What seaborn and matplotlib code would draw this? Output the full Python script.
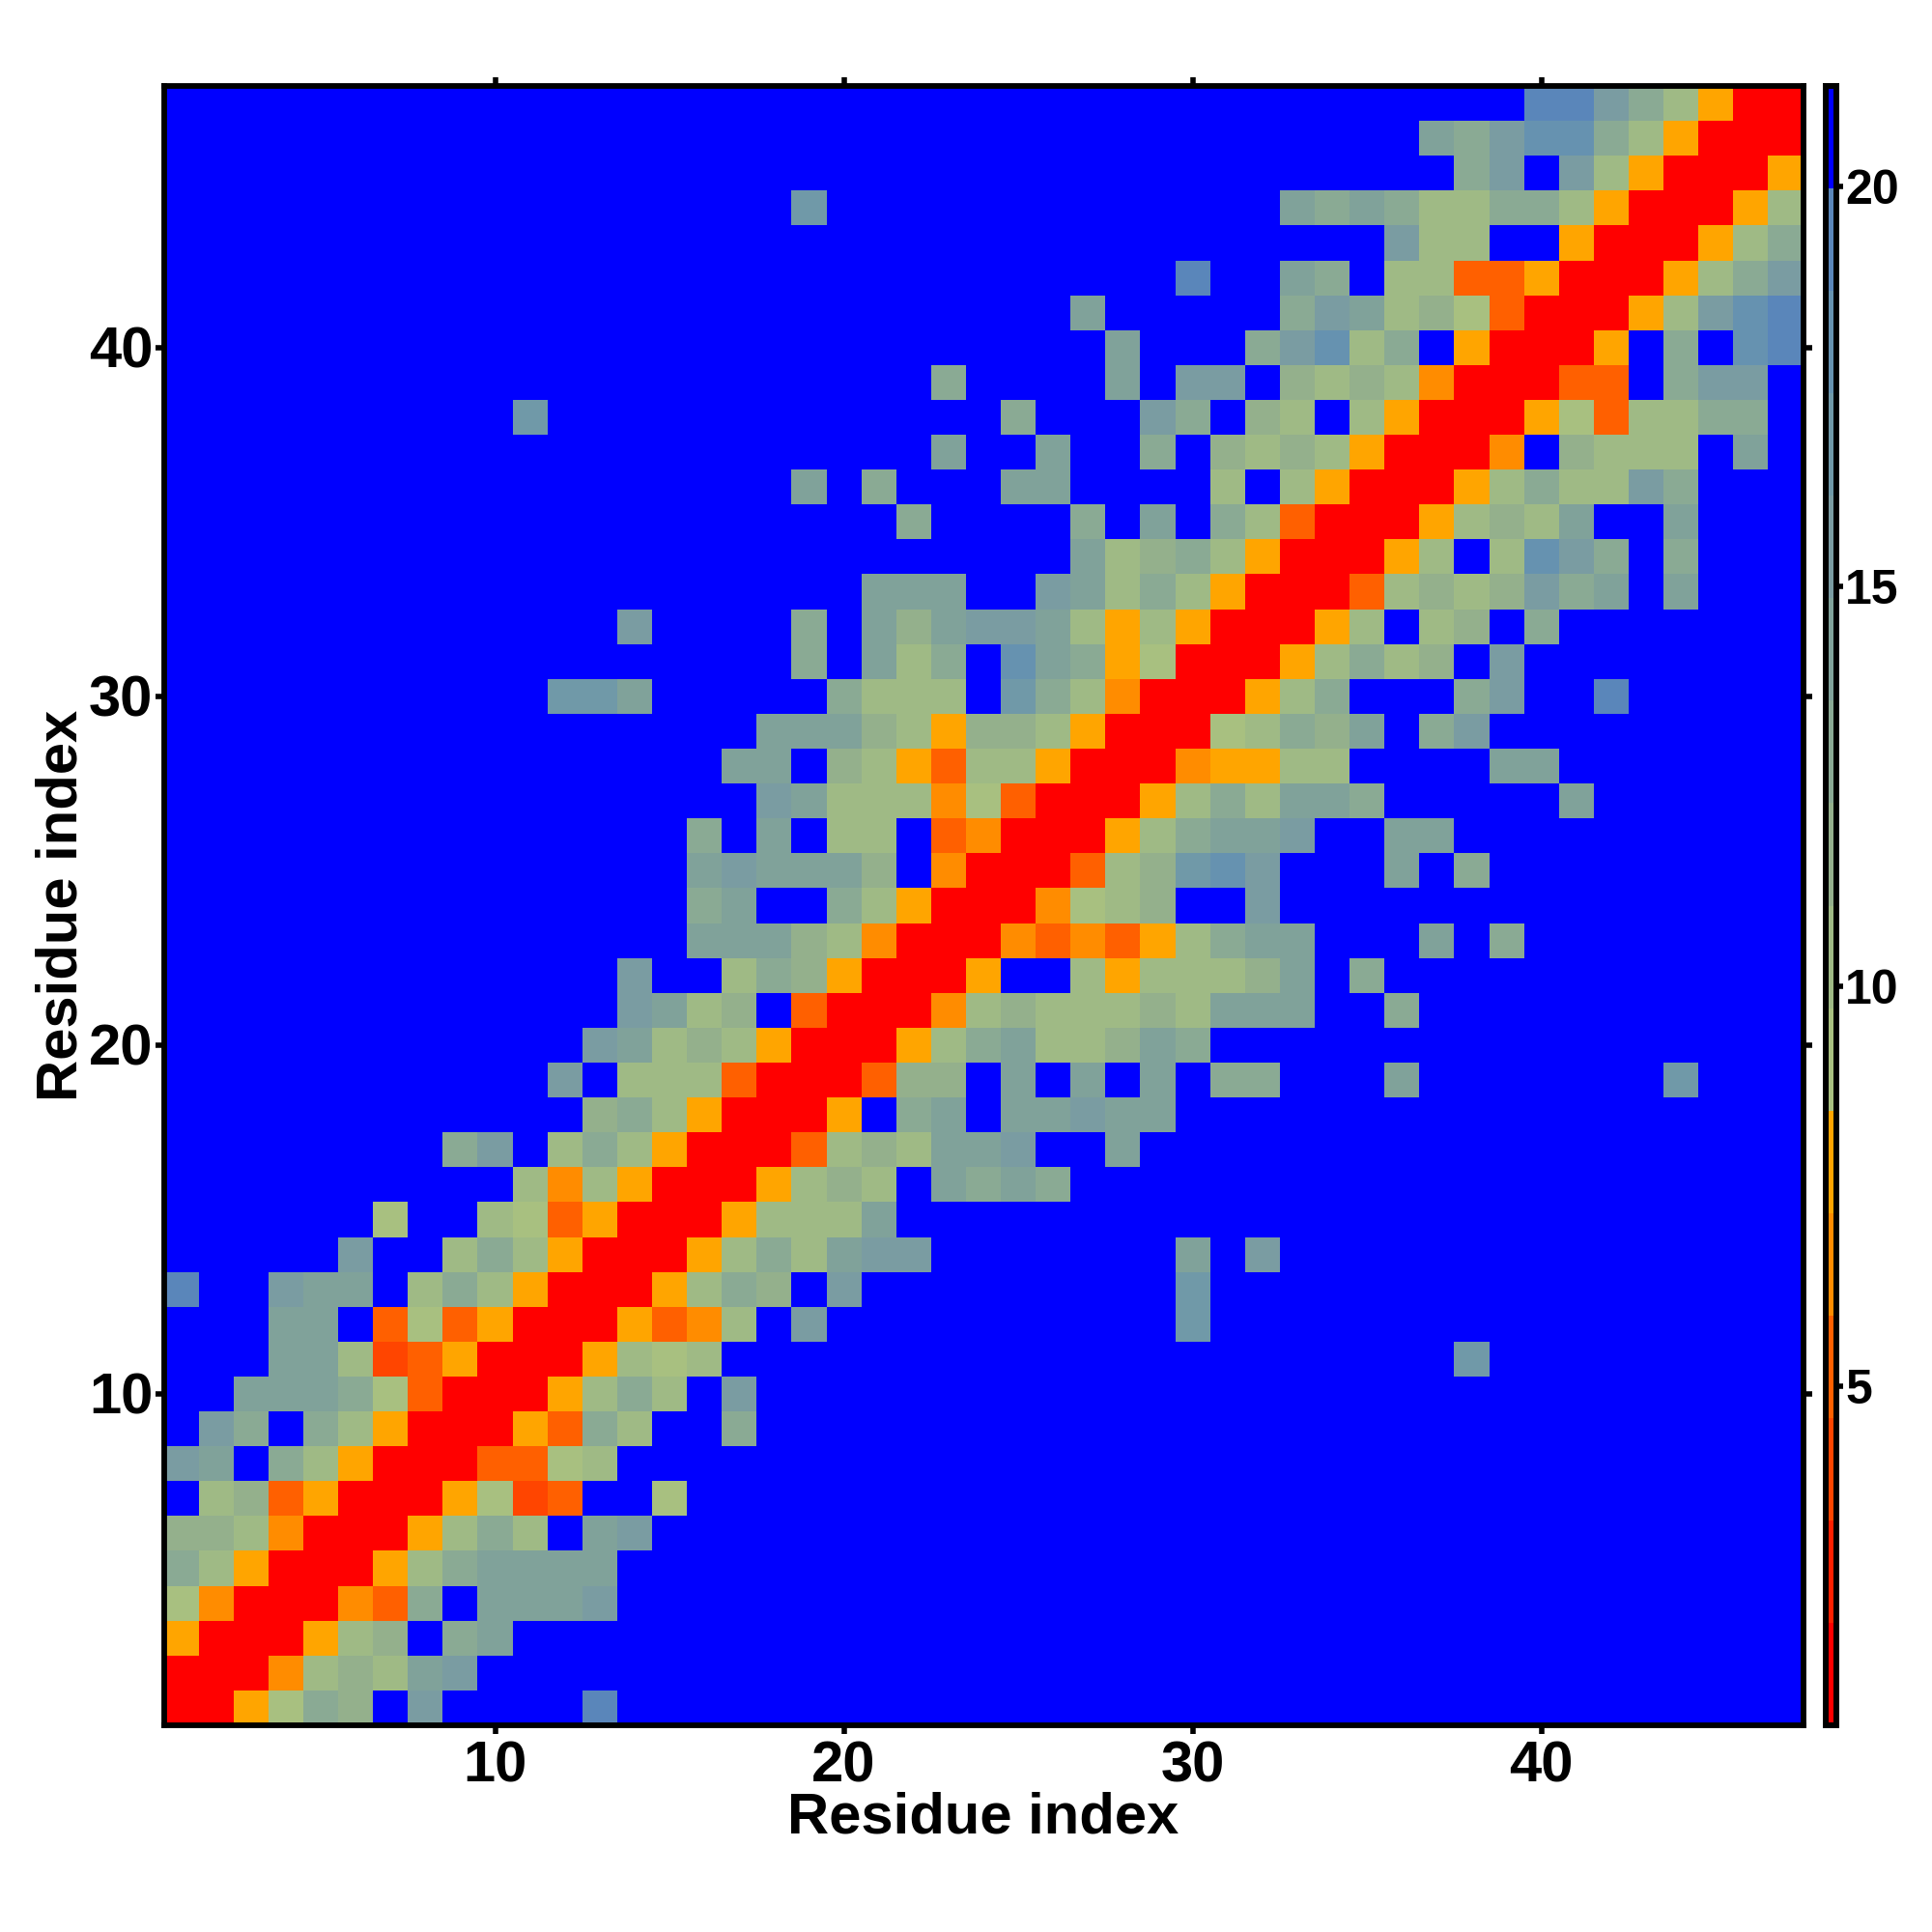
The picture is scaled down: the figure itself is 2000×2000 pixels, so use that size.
import numpy as np
import pandas as pd
import matplotlib
matplotlib.use("Agg")
import matplotlib.pyplot as plt
from matplotlib.colors import ListedColormap
from matplotlib.transforms import ScaledTranslation
import seaborn as sns

# Residue-residue distance bins: one string per residue,
# starting on the diagonal; hex digit = palette bin, 'f' = beyond the cut-off.
distance_bins = [
    "005698fbffffe",
    "004787ab",
    "00578f9a",
    "00439faaab",
    "00579aaaa",
    "005797fab",
    "005623ff6",
    "003367",
    "005397ff9",
    "005797fb",
    "005767fffffffffffffffffffffc",
    "005347fbffffffffffc",
    "005798fbfffffffffc",
    "005797abbfffffffafb",
    "005777a",
    "005787fa9a9",
    "003787aabffa",
    "005f9afaabaa",
    "00388fafafaf99fffafffffffc",
    "00579a778a9",
    "0047877787aaaff9",
    "005ff757778af9",
    "00434357 9aafffaf9".replace(" ", ""),
    "004678ffb",
    "00378cdbfffaf9",
    "00579aabffaa",
    "005797aa9fffffa",
    "0045577ffffaa",
    "006798af9b",
    "00579fff9bffe",
    "0057978fb",
    "0057f78f9",
    "0037878b9afa",
    "0057f7db9f9",
    "005787affa",
    "0057977b9",
    "004f8777fa",
    "005637799",
    "0033f9bb",
    "005f9fde",
    "0057bde",
    "00579b",
    "00579",
    "0057",
    "005",
    "00",
    "0",
]
palette_colors = ["#FF0000", "#FF2000", "#FF4500", "#FF6000", "#FF8C00", "#FFA500",
                  "#A8C080", "#9FBA85", "#94B08C", "#8AAA94", "#80A29A",
                  "#7A9CA2", "#7099A8", "#6692B0", "#5A86BA", "#0000FF"]
value_min = 0.77
value_max = 21.25
axis_ticks = [10, 20, 30, 40]
cbar_ticks = [5, 10, 15, 20]
residues = list(range(1, len(distance_bins) + 1))

n = len(residues)
bin_width = (value_max - value_min) / len(palette_colors)
matrix = np.full((n, n), value_max - bin_width / 2)
for r, row in enumerate(distance_bins):
    for k, ch in enumerate(row):
        v = value_min + bin_width * (int(ch, 16) + 0.5)
        matrix[r, r + k] = v
        matrix[r + k, r] = v
df = pd.DataFrame(matrix, index=residues, columns=residues)

sns.set_theme(style="white")
plt.rcParams["font.family"] = ["Liberation Sans", "DejaVu Sans"]
plt.rcParams["font.weight"] = "bold"

W = H = 2000
fig = plt.figure(figsize=(20, 20), dpi=100)
ax = fig.add_axes([169.5 / W, 1 - 1786 / H, 1697 / W, 1697 / H])
cax = fig.add_axes([1890 / W, 1 - 1786 / H, 11 / W, 1697 / H])

sns.heatmap(df, ax=ax, cbar_ax=cax, cmap=ListedColormap(palette_colors),
            vmin=value_min, vmax=value_max, square=False,
            cbar_kws={"ticks": cbar_ticks}, linewidths=0, rasterized=True)
ax.set_xlim(0, n)
ax.set_ylim(0, n)

lw = 4.2
for a in (ax, cax):
    for s in a.spines.values():
        s.set_visible(True)
        s.set_color("black")
        s.set_linewidth(lw)

pos = [t - 0.5 for t in axis_ticks]
ax.set_xticks(pos, [str(t) for t in axis_ticks], rotation=0)
ax.set_yticks(pos, [str(t) for t in axis_ticks], rotation=0)
ax.tick_params(axis="both", which="major", length=6.5, width=4, color="black",
               labelsize=43, top=True, right=True, bottom=True, left=True,
               labelcolor="black")
ax.tick_params(axis="x", pad=4.5)
ax.tick_params(axis="y", pad=1.5)
down = ScaledTranslation(0, -5 / 100, fig.dpi_scale_trans)
for lab in ax.get_yticklabels():
    lab.set_transform(lab.get_transform() + down)
for lab in ax.get_xticklabels() + ax.get_yticklabels():
    lab.set_fontweight("bold")

ax.set_xlabel("Residue index", fontsize=43, fontweight="bold", color="black")
ax.set_ylabel("Residue index", fontsize=43, fontweight="bold", color="black")
ax.xaxis.set_label_coords((1018 - 169.5) / 1697, -(1882 - 1786) / 1697, transform=ax.transAxes)
ax.xaxis.label.set_va("center")
ax.yaxis.set_label_coords(-(169.5 - 64) / 1697, (1786 - 937) / 1697, transform=ax.transAxes)
ax.yaxis.label.set_va("center")

cax.set_yticks(cbar_ticks, [str(t) for t in cbar_ticks])
cax.tick_params(axis="y", length=5, width=4, color="black", labelsize=36, pad=1.5,
                right=True, left=False, labelcolor="black")
for lab in cax.get_yticklabels():
    lab.set_fontweight("bold")

fig.savefig("out.png", dpi=100, facecolor="white")
